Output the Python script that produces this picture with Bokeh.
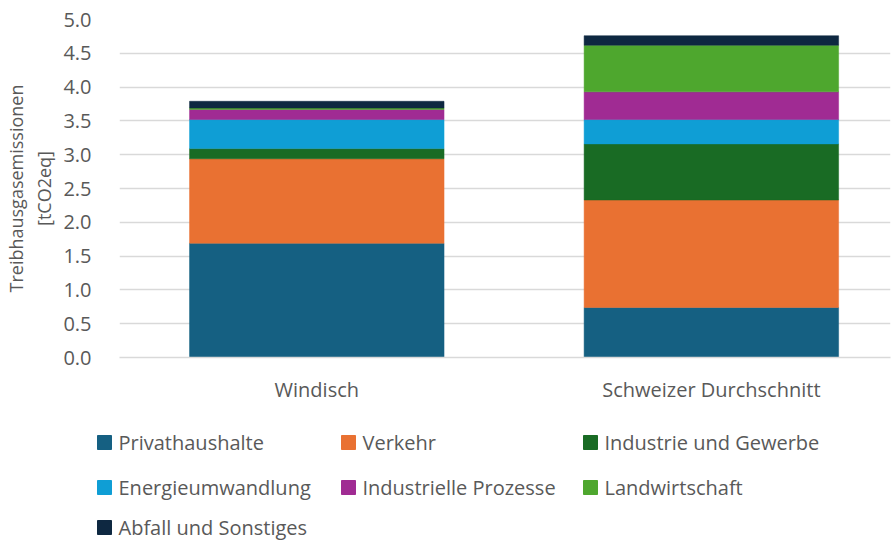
from bokeh.plotting import figure
from bokeh.layouts import column
from bokeh.models import Range1d, FixedTicker, ColumnDataSource, PrintfTickFormatter
from bokeh.core.properties import value
from bokeh.embed import file_html
from bokeh.resources import INLINE

# ---- data ----
categories = ["Windisch", "Schweizer Durchschnitt"]
sectors = ["Privathaushalte", "Verkehr", "Industrie und Gewerbe", "Energieumwandlung",
           "Industrielle Prozesse", "Landwirtschaft", "Abfall und Sonstiges"]
privathaushalte = [1.69, 0.74]
verkehr = [1.25, 1.59]
industrie_gewerbe = [0.15, 0.83]
energieumwandlung = [0.43, 0.36]
industrielle_prozesse = [0.15, 0.41]
landwirtschaft = [0.02, 0.69]
abfall_sonstiges = [0.10, 0.14]
y_ticks = [0.0, 0.5, 1.0, 1.5, 2.0, 2.5, 3.0, 3.5, 4.0, 4.5, 5.0]
y_title = "Treibhausgasemissionen\n[tCO2eq]"

colors = ["#156082", "#E97132", "#196B24", "#0F9ED5", "#A02B93", "#4EA72E", "#0E2841"]
FONT = "Open Sans"
GREY = "#595959"

series = [privathaushalte, verkehr, industrie_gewerbe, energieumwandlung,
          industrielle_prozesse, landwirtschaft, abfall_sonstiges]
xpos = [i + 0.5 for i in range(len(categories))]
data = {"x": xpos}
for name, vals in zip(sectors, series):
    data[name] = vals
source = ColumnDataSource(data)

W = 893
H1 = 410
H2 = 132

p = figure(width=W, height=H1, output_backend="svg", toolbar_location=None,
           x_range=Range1d(0, 1.954), y_range=Range1d(0, 5.0),
           min_border_left=119, min_border_right=3, min_border_top=19,
           min_border_bottom=H1 - 357)
p.frame_align = False
p.outline_line_color = None
p.background_fill_color = "white"
p.border_fill_color = "white"

p.vbar_stack(sectors, x="x", width=0.645, source=source,
             fill_color=colors, line_color=colors, line_width=0.5)

# axes
p.xaxis.ticker = FixedTicker(ticks=xpos)
p.xaxis.major_label_overrides = {x: c for x, c in zip(xpos, categories)}
p.xaxis.major_tick_line_color = None
p.xaxis.minor_tick_line_color = None
p.xaxis.axis_line_color = "#d9d9d9"
p.xaxis.axis_line_width = 1.5
p.xaxis.major_label_text_font = FONT
p.xaxis.major_label_text_font_size = "20px"
p.xaxis.major_label_text_color = GREY
p.xaxis.major_label_standoff = 12

p.yaxis.ticker = FixedTicker(ticks=y_ticks)
p.yaxis.formatter = PrintfTickFormatter(format="%.1f")
p.yaxis.major_tick_line_color = None
p.yaxis.minor_tick_line_color = None
p.yaxis.axis_line_color = None
p.yaxis.major_label_text_font = FONT
p.yaxis.major_label_text_font_size = "20px"
p.yaxis.major_label_text_color = GREY
p.yaxis.major_label_standoff = 22
p.yaxis.axis_label = y_title
p.yaxis.axis_label_text_font = FONT
p.yaxis.axis_label_text_font_size = "18px"
p.yaxis.axis_label_text_font_style = "normal"
p.yaxis.axis_label_text_color = GREY
p.yaxis.axis_label_standoff = 4

p.xgrid.grid_line_color = None
p.ygrid.grid_line_color = "#d9d9d9"
p.ygrid.grid_line_width = 1.5
p.ygrid.ticker = FixedTicker(ticks=y_ticks)

# ---- legend strip below the chart (pixel-unit canvas, y downward) ----
lg = figure(width=W, height=H2, output_backend="svg", toolbar_location=None,
            x_axis_type=None, y_axis_type=None,
            x_range=Range1d(0, W), y_range=Range1d(H2, 0),
            min_border_left=0, min_border_right=0, min_border_top=0, min_border_bottom=0)
lg.frame_align = False
lg.grid.visible = False
lg.outline_line_color = None
lg.border_fill_color = "white"
lg.background_fill_color = "white"

ncols = 3
col_left = [97, 341, 583]      # glyph left edge of each legend column (px)
row_center = [32, 77, 117]     # row centres inside the legend strip (px)
glyph = 14
standoff = 7
lx, ly, tx = [], [], []
for i, name in enumerate(sectors):
    c, r = i % ncols, i // ncols
    lx.append(col_left[c] + glyph / 2)
    ly.append(row_center[r])
    tx.append(col_left[c] + glyph + standoff)
leg_src = ColumnDataSource(dict(gx=lx, gy=ly, tx=tx, label=sectors, color=colors))
lg.rect(x="gx", y="gy", width=glyph, height=glyph, width_units="screen",
        height_units="screen", fill_color="color", line_color="color", source=leg_src)
lg.text(x="tx", y="gy", text="label", source=leg_src, text_font=value(FONT),
        text_font_size="20px", text_color=GREY, text_baseline="middle", text_align="left")

layout = column(p, lg, spacing=0)
open("out.html", "w").write(file_html(layout, INLINE))
